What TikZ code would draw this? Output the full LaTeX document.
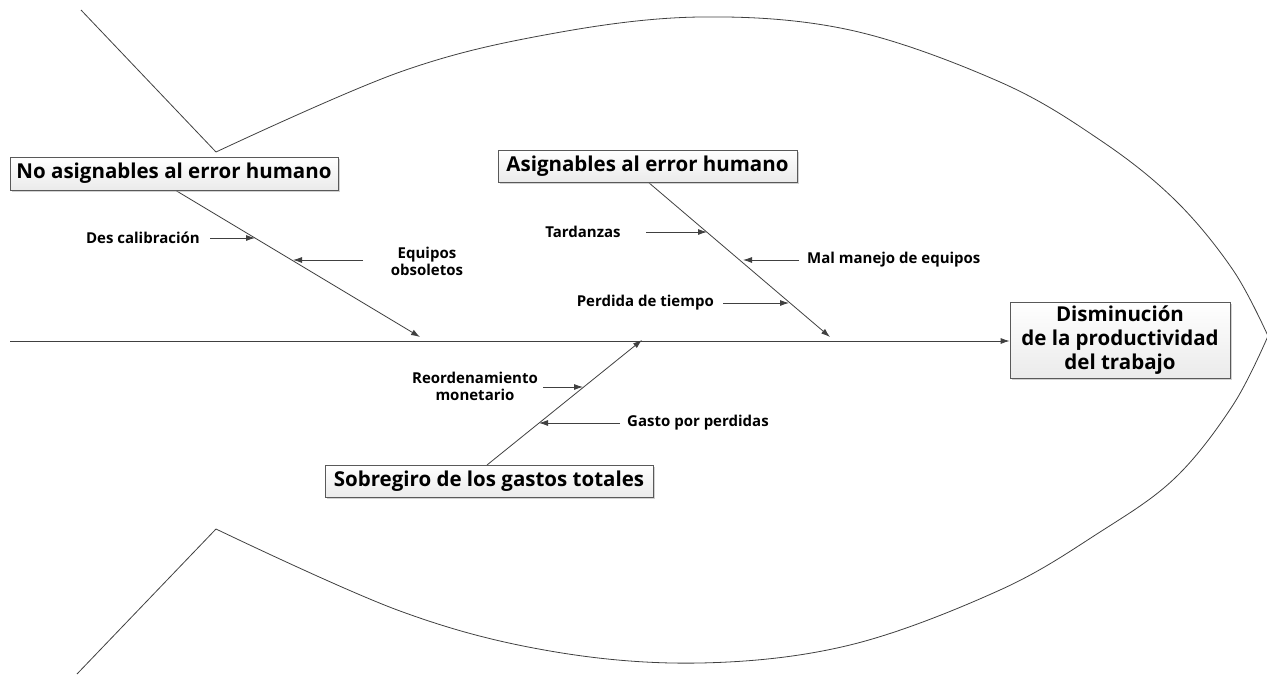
\documentclass[tikz,border=0pt]{standalone}
\usepackage{fontspec}
\setmainfont{Open Sans}
\usetikzlibrary{arrows.meta,shadows}
\begin{document}
\begin{tikzpicture}[x=1pt,y=-1pt,
  ln/.style={draw=black!75, line width=0.8pt},
  tipped/.style={ln, -{Latex[length=9pt,width=6pt]}},
  cause/.style={draw=black!65, line width=0.8pt, top color=white, bottom color=black!8,
    drop shadow={shadow xshift=2pt,shadow yshift=-2pt,fill=black!35,opacity=0.5},
    font=\fontsize{20.5}{24}\selectfont\bfseries, inner sep=0pt, align=center},
  lbl/.style={font=\fontsize{15}{17}\selectfont\bfseries, inner sep=0pt, align=center}]
\useasboundingbox (0,0) rectangle (1267,675);
% fish outline
\coordinate (ut) at (81,10);
\coordinate (uc) at (216,152);
\coordinate (lt) at (77,674);
\coordinate (lc) at (216,529);
\coordinate (nose) at (1268,336);
\draw[ln] (ut) -- (uc);
\draw[ln] plot[smooth, tension=0.6] coordinates {(216,152) (400,72) (550,34) (700,17) (850,30) (1000,82) (1100,140) (1175,200) (1233,270) (1268,336)};
\draw[ln] (lt) -- (lc);
\draw[ln] plot[smooth, tension=0.6] coordinates {(216,529) (400,611) (550,651) (700,663) (850,645) (1000,590) (1100,532) (1175,478) (1233,405) (1268,336)};
% spine
\coordinate (sp0) at (10,341);
\node[cause, minimum width=220pt, minimum height=76pt] (head) at (1120,340) {Disminución\\de la productividad\\del trabajo};
\draw[tipped] (sp0) -- (head.west |- sp0);
% bones
\coordinate (b1s) at (175,190);
\coordinate (b1e) at (420,337);
\coordinate (b2s) at (648,182);
\coordinate (b2e) at (830,337);
\coordinate (b3s) at (487,465);
\coordinate (b3e) at (642,340);
\draw[tipped] (b1s) -- (b1e);
\draw[tipped] (b2s) -- (b2e);
\draw[tipped] (b3s) -- (b3e);
\node[cause, minimum width=328pt, minimum height=33pt] (c1) at (174,173.5) {No asignables al error humano};
\node[cause, minimum width=299pt, minimum height=32pt] (c2) at (647.5,166) {Asignables al error humano};
\node[cause, minimum width=328pt, minimum height=32pt] (c3) at (489,481) {Sobregiro de los gastos totales};
% sub causes
\node[lbl, anchor=east] (l1) at (200,238) {Des calibración};
\coordinate (a1t) at (210,238); \coordinate (a1h) at (255,238);
\draw[tipped] (a1t) -- (a1h);
\node[lbl] (l2) at (427,261) {Equipos\\obsoletos};
\coordinate (a2t) at (363,260); \coordinate (a2h) at (293,260);
\draw[tipped] (a2t) -- (a2h);
\node[lbl] (l3) at (583,232) {Tardanzas};
\coordinate (a3t) at (646,232); \coordinate (a3h) at (707,232);
\draw[tipped] (a3t) -- (a3h);
\node[lbl, anchor=west] (l4) at (807,260) {Mal manejo de equipos};
\coordinate (a4t) at (799,260); \coordinate (a4h) at (743,260);
\draw[tipped] (a4t) -- (a4h);
\node[lbl, anchor=east] (l5) at (714,303) {Perdida de tiempo};
\coordinate (a5t) at (723,303); \coordinate (a5h) at (789,303);
\draw[tipped] (a5t) -- (a5h);
\node[lbl] (l6) at (475,386) {Reordenamiento\\monetario};
\coordinate (a6t) at (543,387); \coordinate (a6h) at (583,387);
\draw[tipped] (a6t) -- (a6h);
\node[lbl, anchor=west] (l7) at (627,423) {Gasto por perdidas};
\coordinate (a7t) at (620,423); \coordinate (a7h) at (539,423);
\draw[tipped] (a7t) -- (a7h);
\end{tikzpicture}
\end{document}
